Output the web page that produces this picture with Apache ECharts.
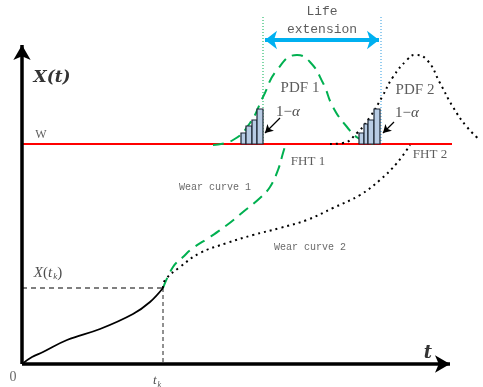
<!DOCTYPE html>
<html><head><meta charset="utf-8">
<script src="https://cdn.jsdelivr.net/npm/echarts@6/dist/echarts.min.js"></script>
<style>html,body{margin:0;padding:0;background:#fff}#c{width:483px;height:387px}</style>
</head><body><div id="c"></div>
<script>
// Units: origin at the axes corner, x to the right, y upward
const W = 220; // failure threshold level
const wearBase = [[0,0],[10,7],[21,12],[45,24],[78,35],[111,50],[128,62],[141,76]];
const wearCurve1 = [[141,76],[151,97],[161,107],[171,116],[188,127],[205,139],[221,152],[238,166],[248,177],[256,194],[261,211],[264,221]];
const wearCurve2 = [[141,76],[143,84],[158,97],[178,111],[205,121],[231,129],[258,136],[285,144],[311,156],[338,169],[358,184],[375,201],[388,219]];
const pdf1 = [[191,219],[211,224],[228,241],[241,267],[255,294],[275,309],[288,302],[301,281],[311,257],[325,237],[336,226],[351,220]];
const pdf2 = [[308,220],[321,221],[335,231],[348,247],[360,267],[371,287],[385,304],[393,309],[405,304],[418,281],[431,257],[445,237],[458,224]];
const bars1 = [[219,224,11],[224,230,18],[230,235,24],[235,241,35]];
const bars2 = [[337,342,11],[342,346,20],[346,352,24],[352,358,35]];
const tk = 141, xtk = 76;
const fht1x = 241, fht2x = 359;
const xAxisEnd = 428, yAxisEnd = 319, wLineEnd = 430, guideTop = 349, arrowY = 324;

const serif = '"Liberation Serif","DejaVu Serif",serif';
const mono = '"Liberation Mono","DejaVu Sans Mono",monospace';
const texts = [
  {t:'PDF 1', p:[278,276], f:serif, s:15, c:'#333'},
  {t:'PDF 2', p:[393,274], f:serif, s:15, c:'#333'},
  {t:'FHT 1', p:[286,202], f:serif, s:13, c:'#333'},
  {t:'FHT 2', p:[408,209], f:serif, s:13, c:'#333'},
  {t:'Wear curve 1', p:[193,177], f:mono, s:10, c:'#444'},
  {t:'Wear curve 2', p:[288,117], f:mono, s:10, c:'#444'},
  {t:'W', p:[19,229], f:serif, s:12, c:'#333'},
  {t:'Life', p:[300,352], f:mono, s:13, c:'#333'},
  {t:'extension', p:[300,334], f:mono, s:13, c:'#333'},
  {t:'0', p:[-9,-13], f:serif, s:14, c:'#444'},
  {t:'{a|1−}{i|α}', p:[266,252], f:serif, s:15, c:'#222'},
  {t:'{a|1−}{i|α}', p:[385,251], f:serif, s:15, c:'#222'},
  {t:'{b|X(t)}', p:[30,286], f:serif, s:15, c:'#000'},
  {t:'{i|X}{a|(}{i|t}{k|k}{a|)}', p:[26,91], f:serif, s:15, c:'#222'},
  {t:'{i|t}{k|k}', p:[135,-17], f:serif, s:13, c:'#222'},
  {t:'{b2|t}', p:[406,11], f:serif, s:15, c:'#000'}
];

function rich(size){
  return {
    a:{fontFamily:serif,fontSize:size,color:'#222'},
    i:{fontFamily:serif,fontSize:size,fontStyle:'italic',color:'#222'},
    k:{fontFamily:serif,fontSize:Math.round(size*0.6),fontStyle:'italic',color:'#222',padding:[8,0,0,1]},
    b:{fontFamily:'"DejaVu Serif",serif',fontSize:17,fontStyle:'italic',fontWeight:'bold',color:'#000'},
    b2:{fontFamily:'"DejaVu Serif",serif',fontSize:18,fontStyle:'italic',fontWeight:'bold',color:'#000'}
  };
}

const barItem = function(params, api){
  const p0 = api.coord([api.value(0), W]);
  const p1 = api.coord([api.value(1), W + api.value(2)]);
  return {type:'rect', shape:{x:p0[0], y:p1[1], width:p1[0]-p0[0], height:p0[1]-p1[1]},
    style:{fill:'#b8cce4', stroke:'#1b2533', lineWidth:1.2}};
};

const chart = echarts.init(document.getElementById('c'), null, {renderer:'canvas'});
chart.setOption({
  animation:false,
  backgroundColor:'#fff',
  grid:{left:0,right:0,top:0,bottom:0},
  xAxis:{type:'value',min:-22,max:461,show:false},
  yAxis:{type:'value',min:-23,max:364,show:false},
  series:[
    {type:'line', data:[[0,W],[wLineEnd,W]], symbol:'none', lineStyle:{color:'#ff0000',width:2}, z:3},
    {type:'line', data:[[fht1x,W],[fht1x,guideTop]], symbol:'none', lineStyle:{color:'#00b050',width:1,type:[1,2]}},
    {type:'line', data:[[fht2x,W],[fht2x,guideTop]], symbol:'none', lineStyle:{color:'#2e9be0',width:1,type:[1,2]}},
    {type:'line', data:[[0,xtk],[tk,xtk]], symbol:'none', lineStyle:{color:'#555',width:1.5,type:[5,4]}},
    {type:'line', data:[[tk,xtk],[tk,0]], symbol:'none', lineStyle:{color:'#222',width:1,type:[4,3]}},
    {type:'line', data:wearBase, smooth:0.4, symbol:'none', lineStyle:{color:'#000',width:1.8}, z:4},
    {type:'line', data:wearCurve1, smooth:0.4, symbol:'none', lineStyle:{color:'#00b050',width:2,type:[11,7]}, z:4},
    {type:'line', data:wearCurve2, smooth:0.4, symbol:'none', lineStyle:{color:'#000',width:2,type:[2,4]}, z:4},
    {type:'line', data:pdf1, smooth:0.5, symbol:'none', lineStyle:{color:'#00b050',width:2,type:[11,7]}, z:4},
    {type:'line', data:pdf2, smooth:0.5, symbol:'none', lineStyle:{color:'#000',width:2,type:[2,4]}, z:4},
    {type:'custom', renderItem:barItem, data:bars1, encode:{x:[0,1],y:2}, z:5},
    {type:'custom', renderItem:barItem, data:bars2, encode:{x:[0,1],y:2}, z:5},
    {type:'line', data:[], symbol:'none', z:6,
      markLine:{silent:true, animation:false, label:{show:false},
        data:[
          [{coord:[0,0],symbol:'none'},{coord:[0,yAxisEnd],symbol:'arrow',symbolSize:[13,15],lineStyle:{color:'#000',width:3.5,type:'solid'}}],
          [{coord:[0,0],symbol:'none'},{coord:[xAxisEnd,0],symbol:'arrow',symbolSize:[13,15],lineStyle:{color:'#000',width:3.5,type:'solid'}}],
          [{coord:[fht1x+2,arrowY],symbol:'arrow',symbolSize:[14,12]},{coord:[fht2x-2,arrowY],symbol:'arrow',symbolSize:[14,12],lineStyle:{color:'#00b0f0',width:4,type:'solid'}}],
          [{coord:[258,246],symbol:'none'},{coord:[243,231],symbol:'arrow',symbolSize:[7,8],lineStyle:{color:'#000',width:1.2,type:'solid'}}],
          [{coord:[372,242],symbol:'none'},{coord:[361,231],symbol:'arrow',symbolSize:[7,8],lineStyle:{color:'#000',width:1.2,type:'solid'}}]
        ]}
    },
    {type:'scatter', symbolSize:0, z:10, silent:true,
      data:texts.map(o=>({value:o.p, label:{show:true, position:'inside', formatter:o.t,
        fontFamily:o.f, fontSize:o.s, color:o.c, rich:rich(o.s)}}))}
  ]
});
</script></body></html>
